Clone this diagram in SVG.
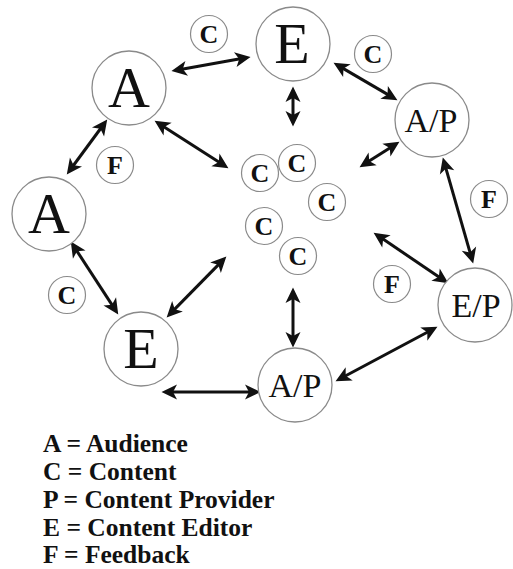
<svg xmlns="http://www.w3.org/2000/svg" width="513" height="569" viewBox="0 0 513 569">
<style>
.big{fill:#fff;stroke:#8a8a8a;stroke-width:1.3}
.sm{fill:#fff;stroke:#8a8a8a;stroke-width:1.2}
.t1{font-family:"Liberation Serif","Times New Roman",serif;font-size:58px;fill:#111;text-anchor:middle}
.t2{font-family:"Liberation Serif","Times New Roman",serif;font-size:34px;fill:#111;text-anchor:middle}
.ts{font-family:"Liberation Serif","Times New Roman",serif;font-size:26px;font-weight:bold;fill:#111;text-anchor:middle}
.lg{font-family:"Liberation Serif","Times New Roman",serif;font-size:25.5px;font-weight:bold;fill:#111}
.ar{stroke:#111;stroke-width:3;fill:none;marker-start:url(#h);marker-end:url(#h)}
</style>
<defs>
<marker id="h" viewBox="0 0 16 15" markerUnits="userSpaceOnUse" markerWidth="16" markerHeight="15" refX="5" refY="7.5" orient="auto-start-reverse" overflow="visible">
<path d="M0,0 L15.5,7.5 L0,15 L4,7.5 Z" fill="#111"/>
</marker>
</defs>
<g id="connectors">
<path class="ar" d="M181.8,69.2 L240.2,58.8"/>
<path class="ar" d="M293,97 L293,116"/>
<path class="ar" d="M342.6,68.1 L388.4,94.9"/>
<path class="ar" d="M390.6,147.4 L368.4,161.6"/>
<path class="ar" d="M163.4,126.4 L219.6,162.6"/>
<path class="ar" d="M101,128 L73,166"/>
<path class="ar" d="M76.5,250.4 L112.5,305.6"/>
<path class="ar" d="M219,264.1 L174,309.9"/>
<path class="ar" d="M172,392 L250,392"/>
<path class="ar" d="M293,298 L293,337"/>
<path class="ar" d="M344.8,376.3 L428.2,331.7"/>
<path class="ar" d="M382.3,238.6 L439.7,277.4"/>
<path class="ar" d="M445.7,167.6 L470.3,253.4"/>
</g>
<g id="node-a-top"><circle class="big" cx="129" cy="88" r="37"/><text class="t1" x="129" y="107">A</text></g>
<g id="node-e-top"><circle class="big" cx="293" cy="44" r="37"/><text class="t1" x="292" y="63">E</text></g>
<g id="node-ap-top"><circle class="big" cx="432" cy="120" r="37"/><text class="t2" x="431" y="132">A/P</text></g>
<g id="node-a-left"><circle class="big" cx="49" cy="214" r="37"/><text class="t1" x="49" y="233">A</text></g>
<g id="node-e-bottom"><circle class="big" cx="141" cy="349" r="37"/><text class="t1" x="141" y="368">E</text></g>
<g id="node-ap-bottom"><circle class="big" cx="295" cy="385" r="37"/><text class="t2" x="295" y="397">A/P</text></g>
<g id="node-ep"><circle class="big" cx="475" cy="305" r="37"/><text class="t2" x="476" y="317">E/P</text></g>
<g id="c-top"><circle class="sm" cx="209" cy="34" r="18.5"/><text class="ts" x="209" y="43">C</text></g>
<g id="f-left"><circle class="sm" cx="115" cy="165" r="18.5"/><text class="ts" x="115" y="174">F</text></g>
<g id="c-right"><circle class="sm" cx="373" cy="54" r="18.5"/><text class="ts" x="373" y="63">C</text></g>
<g id="c-1"><circle class="sm" cx="260" cy="173" r="18.5"/><text class="ts" x="260" y="182">C</text></g>
<g id="c-2"><circle class="sm" cx="297" cy="163" r="18.5"/><text class="ts" x="297" y="172">C</text></g>
<g id="c-3"><circle class="sm" cx="327" cy="202" r="18.5"/><text class="ts" x="327" y="211">C</text></g>
<g id="c-4"><circle class="sm" cx="264" cy="226" r="18.5"/><text class="ts" x="264" y="235">C</text></g>
<g id="c-5"><circle class="sm" cx="298" cy="256" r="18.5"/><text class="ts" x="298" y="265">C</text></g>
<g id="f-right"><circle class="sm" cx="489" cy="199" r="18.5"/><text class="ts" x="489" y="208">F</text></g>
<g id="f-mid"><circle class="sm" cx="392" cy="284" r="18.5"/><text class="ts" x="392" y="293">F</text></g>
<g id="c-left"><circle class="sm" cx="67" cy="295" r="18.5"/><text class="ts" x="67" y="304">C</text></g>
<g id="legend">
<text class="lg" x="43" y="452">A = Audience</text>
<text class="lg" x="43" y="480">C = Content</text>
<text class="lg" x="43" y="508">P = Content Provider</text>
<text class="lg" x="43" y="536">E = Content Editor</text>
<text class="lg" x="43" y="563">F = Feedback</text>
</g>
</svg>
